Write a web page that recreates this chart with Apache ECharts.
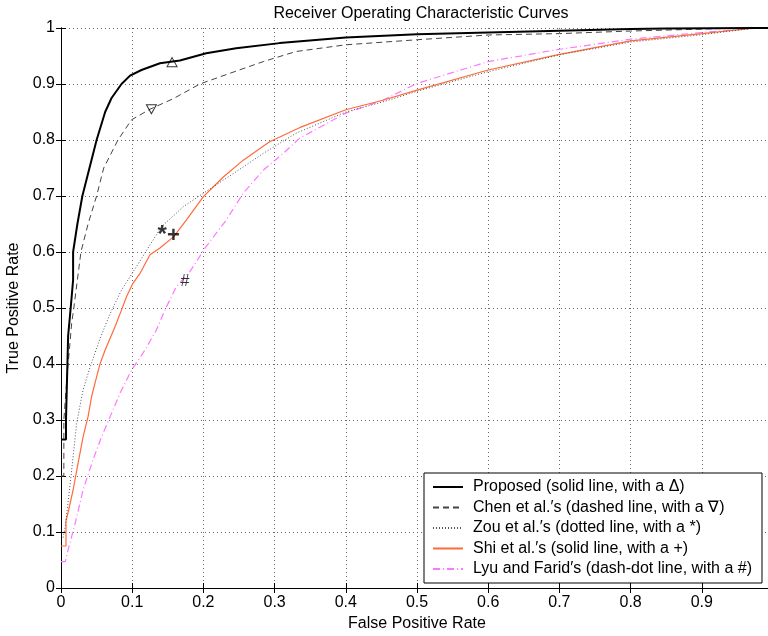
<!DOCTYPE html>
<html>
<head>
<meta charset="utf-8">
<script src="https://cdn.jsdelivr.net/npm/echarts@6/dist/echarts.min.js"></script>
<style>html,body{margin:0;padding:0;background:#fff;}#c{width:768px;height:636px;}</style>
</head>
<body>
<div id="c"></div>
<script>
// ---- data ----
const seriesNames = [
  'Proposed (solid line, with a \u0394)',
  'Chen et al.\u2032s (dashed line, with a \u2207)',
  'Zou et al.\u2032s (dotted line, with a *)',
  'Shi et al.\u2032s (solid line, with a +)',
  'Lyu and Farid\u2032s (dash-dot line, with a #)'
];
const proposedX = [0, 0.007, 0.007, 0.010, 0.0136, 0.017, 0.017, 0.023, 0.030, 0.040, 0.050, 0.062, 0.071, 0.085, 0.097, 0.113, 0.139, 0.167, 0.204, 0.246, 0.307, 0.40, 0.50, 0.60, 0.70, 0.80, 0.85, 0.976, 1];
const proposedY = [0.265, 0.265, 0.30, 0.45, 0.50, 0.55, 0.60, 0.65, 0.70, 0.75, 0.80, 0.85, 0.875, 0.90, 0.915, 0.925, 0.937, 0.942, 0.955, 0.964, 0.973, 0.983, 0.989, 0.992, 0.995, 0.998, 0.999, 1, 1];
const chenX = [0, 0.004, 0.004, 0.008, 0.015, 0.018, 0.028, 0.038, 0.050, 0.060, 0.080, 0.099, 0.125, 0.158, 0.195, 0.237, 0.284, 0.33, 0.40, 0.50, 0.60, 0.70, 0.80, 0.90, 0.95, 1];
const chenY = [0.20, 0.20, 0.30, 0.37, 0.473, 0.50, 0.60, 0.65, 0.70, 0.75, 0.80, 0.836, 0.855, 0.874, 0.90, 0.919, 0.94, 0.958, 0.970, 0.979, 0.9875, 0.990, 0.9946, 0.998, 1, 1];
const zouX = [0.003, 0.006, 0.013, 0.022, 0.031, 0.041, 0.055, 0.069, 0.085, 0.106, 0.141, 0.172, 0.20, 0.242, 0.284, 0.33, 0.40, 0.452, 0.50, 0.60, 0.70, 0.80, 0.90, 0.975, 1];
const zouY = [0.09, 0.11, 0.187, 0.294, 0.354, 0.395, 0.446, 0.49, 0.532, 0.574, 0.645, 0.681, 0.705, 0.74, 0.776, 0.812, 0.850, 0.868, 0.887, 0.922, 0.952, 0.975, 0.988, 1, 1];
const shiX = [0, 0.007, 0.007, 0.010, 0.017, 0.024, 0.031, 0.038, 0.043, 0.050, 0.055, 0.062, 0.069, 0.076, 0.083, 0.092, 0.101, 0.111, 0.125, 0.139, 0.158, 0.176, 0.20, 0.228, 0.256, 0.293, 0.335, 0.40, 0.452, 0.50, 0.60, 0.70, 0.80, 0.90, 0.975, 1];
const shiY = [0.075, 0.075, 0.12, 0.135, 0.175, 0.223, 0.27, 0.306, 0.342, 0.377, 0.401, 0.425, 0.446, 0.467, 0.49, 0.52, 0.544, 0.562, 0.595, 0.607, 0.627, 0.657, 0.699, 0.734, 0.764, 0.797, 0.822, 0.854, 0.871, 0.889, 0.925, 0.953, 0.977, 0.990, 1, 1];
const lyuX = [0, 0.006, 0.010, 0.020, 0.031, 0.045, 0.057, 0.069, 0.083, 0.099, 0.118, 0.134, 0.148, 0.162, 0.181, 0.204, 0.232, 0.256, 0.284, 0.312, 0.335, 0.40, 0.452, 0.50, 0.60, 0.70, 0.80, 0.90, 0.98, 1];
const lyuY = [0.047, 0.047, 0.068, 0.116, 0.175, 0.229, 0.27, 0.306, 0.348, 0.389, 0.425, 0.461, 0.502, 0.538, 0.565, 0.61, 0.657, 0.705, 0.746, 0.776, 0.803, 0.848, 0.871, 0.901, 0.94, 0.962, 0.98, 0.992, 1, 1];
const markerX = [0.156, 0.127, 0.142, 0.158, 0.174];
const markerY = [0.939, 0.855, 0.636, 0.629, 0.548];
const markerGlyph = ['up', 'down', '*', '+', '#'];
const xTicks = [0, 0.1, 0.2, 0.3, 0.4, 0.5, 0.6, 0.7, 0.8, 0.9, 1];
const yTicks = [0, 0.1, 0.2, 0.3, 0.4, 0.5, 0.6, 0.7, 0.8, 0.9, 1];

// ---- build ----
const FONT = 'Liberation Sans, Arial, sans-serif';
const FS = 16;
function pairs(xs, ys) { return xs.map((x, i) => [x, ys[i]]); }
const curves = [
  { x: proposedX, y: proposedY, color: '#000000', width: 2, type: 'solid' },
  { x: chenX, y: chenY, color: '#444444', width: 1, type: [6, 4] },
  { x: zouX, y: zouY, color: '#555555', width: 1, type: [1, 2] },
  { x: shiX, y: shiY, color: '#FF6A3A', width: 1.2, type: 'solid' },
  { x: lyuX, y: lyuY, color: '#FF77FF', width: 1.2, type: [7, 3, 1, 3] }
];
const lineSeries = curves.map((c, i) => ({
  name: seriesNames[i],
  type: 'line',
  data: pairs(c.x, c.y),
  symbol: 'none',
  showSymbol: false,
  silent: true,
  animation: false,
  color: c.color,
  itemStyle: { color: c.color, opacity: 0 },
  lineStyle: { color: c.color, width: c.width, type: c.type },
  z: 10 - i
}));
const markerData = markerX.map((x, i) => {
  const g = markerGlyph[i];
  if (g === 'up' || g === 'down') {
    return {
      value: [x, markerY[i]],
      symbol: 'triangle',
      symbolSize: [10, 9],
      symbolRotate: g === 'down' ? 180 : 0,
      itemStyle: { color: 'rgba(255,255,255,0)', borderColor: '#000', borderWidth: 1 },
      label: { show: false }
    };
  }
  const sizes = { '*': 24, '+': 22, '#': 16 };
  const weights = { '*': 'bold', '+': 'bold', '#': 'normal' };
  return {
    value: [x, markerY[i]],
    symbol: 'circle',
    symbolSize: 0,
    itemStyle: { color: 'rgba(0,0,0,0)' },
    label: {
      show: true, position: 'inside', formatter: g, color: '#000',
      fontSize: sizes[g], fontWeight: weights[g], fontFamily: FONT,
      offset: g === '*' ? [0, 4] : [0, 0]
    }
  };
});

const chart = echarts.init(document.getElementById('c'), null, { renderer: 'canvas' });
const axisCommon = {
  type: 'value', min: 0, max: 1, interval: 0.1,
  axisLine: { show: true, lineStyle: { color: '#000', width: 1 } },
  axisTick: { show: true, inside: true, length: 5, lineStyle: { color: '#000' } }
};
chart.setOption({
  animation: false,
  backgroundColor: '#fff',
  title: {
    text: 'Receiver Operating Characteristic Curves',
    left: 416, top: 1, textAlign: 'center',
    textStyle: { fontSize: FS, fontWeight: 'normal', color: '#000', fontFamily: FONT }
  },
  grid: { left: 61, top: 28, width: 712, height: 560, containLabel: false, outerBoundsMode: 'none' },
  legend: {
    data: seriesNames,
    orient: 'vertical',
    left: 424, top: 473,
    itemWidth: 30, itemHeight: 14, itemGap: 4.5,
    padding: [6, 10, 6, 8],
    borderColor: '#000', borderWidth: 1,
    backgroundColor: '#fff',
    selectedMode: false,
    itemStyle: { opacity: 0 },
    textStyle: { fontSize: FS, color: '#000', fontFamily: FONT, padding: [0, 0, 0, 5] }
  },
  xAxis: [
    Object.assign({}, axisCommon, {
      position: 'bottom',
      name: 'False Positive Rate', nameLocation: 'middle', nameGap: 26,
      nameTextStyle: { fontSize: FS, color: '#000', fontFamily: FONT },
      axisLabel: { show: true, margin: 7, fontSize: FS, color: '#000', fontFamily: FONT,
        formatter: v => { const t = xTicks.find(k => Math.abs(k - v) < 1e-9); return t === undefined || t === 1 ? '' : String(t); } },
      splitLine: { show: true, lineStyle: { color: '#666', type: [1, 3], width: 1 } }
    }),
    Object.assign({}, axisCommon, {
      position: 'top', axisLabel: { show: false }, splitLine: { show: false }
    })
  ],
  yAxis: [
    Object.assign({}, axisCommon, {
      position: 'left',
      name: 'True Positive Rate', nameLocation: 'middle', nameGap: 31,
      nameTextStyle: { fontSize: FS, color: '#000', fontFamily: FONT },
      axisLabel: { show: true, margin: 6, fontSize: FS, color: '#000', fontFamily: FONT,
        formatter: v => { const t = yTicks.find(k => Math.abs(k - v) < 1e-9); return t === undefined ? '' : String(t); } },
      splitLine: { show: true, lineStyle: { color: '#666', type: [1, 3], width: 1 } }
    }),
    Object.assign({}, axisCommon, {
      position: 'right', axisLabel: { show: false }, splitLine: { show: false }
    })
  ],
  series: lineSeries.concat([{
    name: 'markers',
    type: 'scatter',
    data: markerData,
    silent: true,
    z: 20
  }])
});
</script>
</body>
</html>
